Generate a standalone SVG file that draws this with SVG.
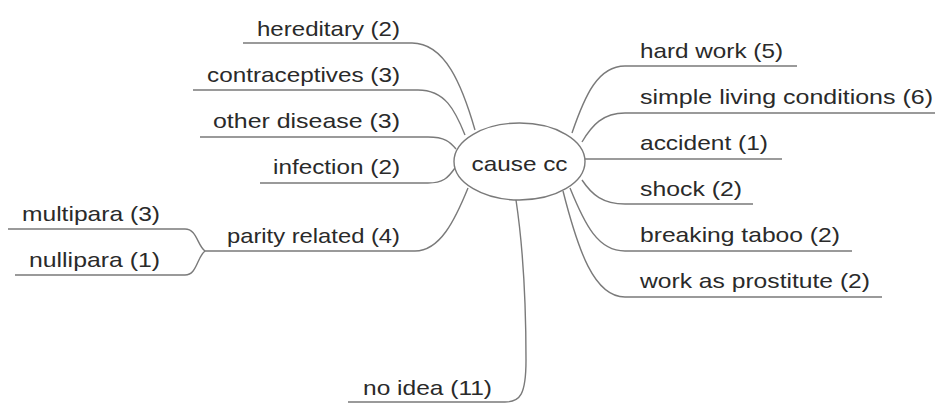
<svg xmlns="http://www.w3.org/2000/svg" width="935" height="405" viewBox="0 0 935 405">
<style>
.c{fill:none;stroke:#7a7a7a;stroke-width:1.4}
.t{font-family:"Liberation Sans",Arial,sans-serif;font-size:21px;fill:#2a2a2a}
.r{text-anchor:end}
</style>
<rect width="935" height="405" fill="#fff"/>
<g id="connectors">
<path class="c" d="M475,130 C462,85 445,43 412,43 L243,43"/>
<path class="c" d="M465,135 C455,110 445,90 418,90 L193,90"/>
<path class="c" d="M456,149 C450,142 445,137 428,137 L200,137"/>
<path class="c" d="M455,168 C448,178 443,183 428,183 L260,183"/>
<path class="c" d="M468,188 C455,220 440,251 415,251 L205,251"/>
<path class="c" d="M205,251 C197,245 197,229 185,229 L8,229"/>
<path class="c" d="M205,251 C197,257 197,275 185,275 L15,275"/>
<path class="c" d="M516,200 C522,240 526,300 526,360 C526,395 520,402 505,402 L348,402"/>
<path class="c" d="M572,133 C585,95 598,66 625,66 L797,66"/>
<path class="c" d="M582,142 C592,125 603,113 625,113 L935,113"/>
<path class="c" d="M585,159 L782,159"/>
<path class="c" d="M582,180 C592,195 603,204 625,204 L753,204"/>
<path class="c" d="M570,188 C585,225 598,251 625,251 L852,251"/>
<path class="c" d="M563,191 C578,250 594,297 625,297 L882,297"/>
</g>
<g id="center"><ellipse cx="519.5" cy="161.5" rx="65.5" ry="38.5" fill="#fff" stroke="#7a7a7a" stroke-width="1.4"/><text class="t" x="519.5" y="171" text-anchor="middle" textLength="96" lengthAdjust="spacingAndGlyphs">cause cc</text></g>
<g id="hereditary"><text class="t r" x="400" y="36" textLength="143" lengthAdjust="spacingAndGlyphs">hereditary (2)</text></g>
<g id="contraceptives"><text class="t r" x="400" y="82" textLength="193" lengthAdjust="spacingAndGlyphs">contraceptives (3)</text></g>
<g id="other-disease"><text class="t r" x="400" y="128" textLength="187" lengthAdjust="spacingAndGlyphs">other disease (3)</text></g>
<g id="infection"><text class="t r" x="400" y="174" textLength="127" lengthAdjust="spacingAndGlyphs">infection (2)</text></g>
<g id="parity"><text class="t r" x="400" y="243" textLength="173" lengthAdjust="spacingAndGlyphs">parity related (4)</text></g>
<g id="multipara"><text class="t r" x="160" y="221" textLength="138" lengthAdjust="spacingAndGlyphs">multipara (3)</text></g>
<g id="nullipara"><text class="t r" x="160" y="267" textLength="131" lengthAdjust="spacingAndGlyphs">nullipara (1)</text></g>
<g id="no-idea"><text class="t r" x="492" y="395" textLength="129" lengthAdjust="spacingAndGlyphs">no idea (11)</text></g>
<g id="hard-work"><text class="t" x="640" y="58" textLength="143" lengthAdjust="spacingAndGlyphs">hard work (5)</text></g>
<g id="simple-living"><text class="t" x="640" y="104" textLength="293" lengthAdjust="spacingAndGlyphs">simple living conditions (6)</text></g>
<g id="accident"><text class="t" x="640" y="150" textLength="128" lengthAdjust="spacingAndGlyphs">accident (1)</text></g>
<g id="shock"><text class="t" x="640" y="196" textLength="102" lengthAdjust="spacingAndGlyphs">shock (2)</text></g>
<g id="breaking-taboo"><text class="t" x="640" y="242" textLength="200" lengthAdjust="spacingAndGlyphs">breaking taboo (2)</text></g>
<g id="prostitute"><text class="t" x="640" y="288" textLength="230" lengthAdjust="spacingAndGlyphs">work as prostitute (2)</text></g>
</svg>
